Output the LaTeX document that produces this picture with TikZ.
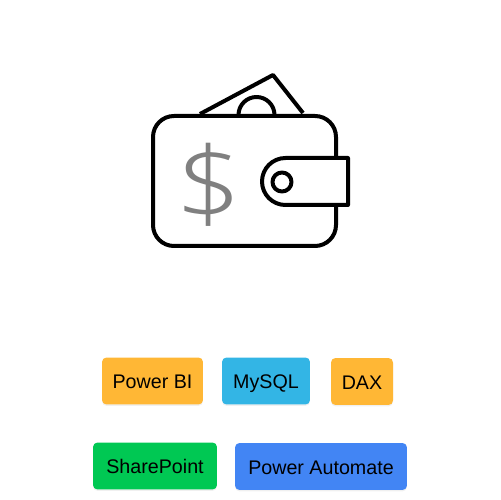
\documentclass[tikz,border=0pt]{standalone}
\usepackage{fontspec}
\setmainfont{Liberation Sans}
\newfontfamily\dollarfont{Open Sans Light}
\usetikzlibrary{shadows}
\definecolor{tagorange}{HTML}{FFB735}
\definecolor{tagcyan}{HTML}{33B5E5}
\definecolor{taggreen}{HTML}{00C853}
\definecolor{tagblue}{HTML}{4285F4}
\tikzset{
  icon/.style={draw=black, line width=0.08cm, line join=round},
  tag/.style={rounded corners=0.09cm, text=black, font=\fontsize{11.2pt}{13pt}\selectfont,
    minimum height=0.94cm, inner sep=0pt, text height=0.37cm, text depth=0.06cm,
    drop shadow={opacity=0.12, shadow xshift=0pt, shadow yshift=-0.8pt}},
}
\begin{document}
\begin{tikzpicture}[x=0.02cm, y=0.02cm]
  \useasboundingbox (0, 0) rectangle (500, 500);
  % banknote
  \draw[icon] (200, 386) -- (273, 425) -- (303, 387);
  \draw[icon] (238.5, 385) arc (180:0:18);
  % wallet
  \draw[icon, fill=white, rounded corners=0.42cm] (153, 254) rectangle (336, 384);
  \node[text=black!50, font=\dollarfont\fontsize{58pt}{58pt}\selectfont, inner sep=0pt, xscale=1.15] (dollar) at (208.5, 315) {\$};
  % clasp
  \draw[icon, fill=white] (348, 342) -- (285.5, 342) arc (90:270:23.5) -- (348, 295) -- cycle;
  \draw[icon] (282, 318) circle (9.5);
  % tags
  \foreach \name/\cx/\cy/\w/\col/\txt in {
    powerbi/152.5/119/2.02/tagorange/Power BI,
    mysql/266/119/1.76/tagcyan/MySQL,
    dax/362/118.5/1.24/tagorange/DAX,
    sharepoint/155/34/2.48/taggreen/SharePoint,
    automate/321/33.5/3.44/tagblue/Power Automate} {
    \node[tag, fill=\col, minimum width=\w cm] (\name) at (\cx, \cy) {\txt};
  }
\end{tikzpicture}
\end{document}
